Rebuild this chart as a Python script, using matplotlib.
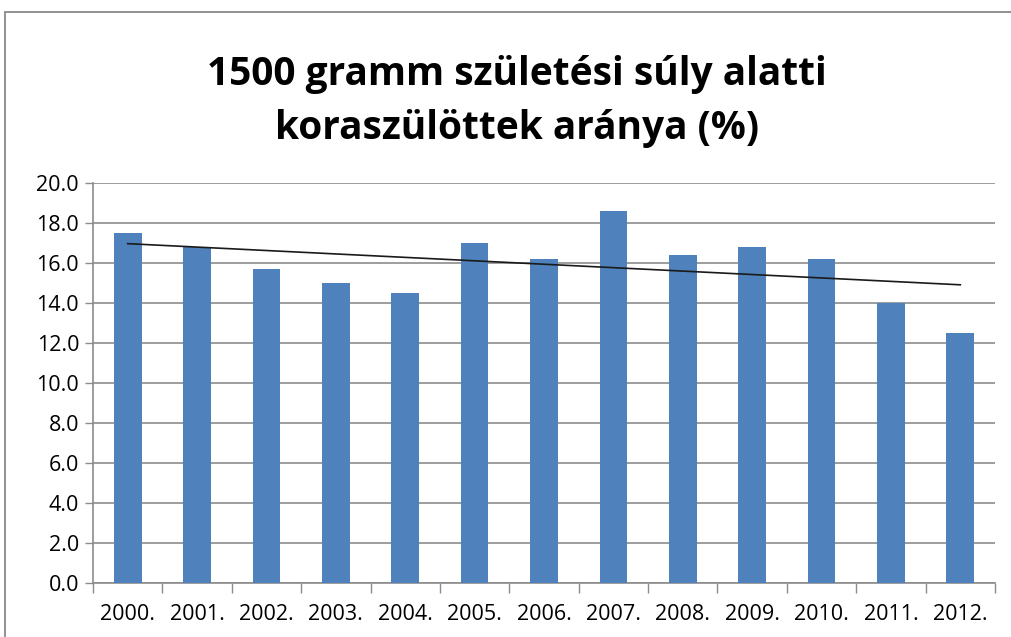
import matplotlib
matplotlib.use("Agg")
import matplotlib.pyplot as plt
import numpy as np
from matplotlib.patches import Rectangle

plt.rcParams["font.family"] = ["Open Sans", "DejaVu Sans"]

# Data
years = ["2000.", "2001.", "2002.", "2003.", "2004.", "2005.", "2006.",
         "2007.", "2008.", "2009.", "2010.", "2011.", "2012."]
values = [17.5, 16.8, 15.7, 15.0, 14.5, 17.0, 16.2, 18.6, 16.4, 16.8, 16.2, 14.0, 12.5]
yticks = [0, 2, 4, 6, 8, 10, 12, 14, 16, 18, 20]

title = "1500 gramm születési súly alatti\nkoraszülöttek aránya (%)"

fig = plt.figure(figsize=(10.11, 6.37), dpi=100)
ax = fig.add_axes([93 / 1011, 54 / 637, 902 / 1011, 400 / 637])

x = np.arange(len(years))
ax.bar(x, values, width=0.4, color="#4F81BD", zorder=3)

# linear trend line
k, b = np.polyfit(x, values, 1)
ax.plot(x, k * x + b, color="#1a1a1a", linewidth=1.2, zorder=4)

ax.set_xlim(-0.5, len(years) - 0.5)
ax.set_ylim(0, 20)
ax.set_yticks(yticks)
ax.set_yticklabels([f"{v:.1f}" for v in yticks], fontsize=15.5)
ax.yaxis.grid(True, color="#8c8c8c", linewidth=1.2, zorder=0)

# category ticks between bars, labels at centres
ax.set_xticks(np.arange(-0.5, len(years), 1.0))
ax.set_xticklabels([])
ax.set_xticks(x, minor=True)
ax.set_xticklabels(years, minor=True, fontsize=15.5)
ax.tick_params(axis="x", which="major", length=7, color="#8c8c8c", width=1)
ax.tick_params(axis="x", which="minor", length=0, pad=15)
ax.tick_params(axis="y", length=6, color="#8c8c8c", width=1, pad=4)

for s in ["top", "right"]:
    ax.spines[s].set_visible(False)
ax.spines["left"].set_color("#8c8c8c")
ax.spines["bottom"].set_color("#8c8c8c")
ax.spines["left"].set_linewidth(1.2)
ax.spines["bottom"].set_linewidth(1.2)

fig.text(517 / 1011, 1 - 101 / 637, title, ha="center", va="center",
         fontsize=28, fontweight="bold", linespacing=1.5)

# outer chart frame
fig.patches.append(Rectangle((5 / 1011, -0.1), 1.2, 1 - 12 / 637 + 0.1,
                             transform=fig.transFigure, fill=False,
                             edgecolor="#7f7f7f", linewidth=1.2))

plt.savefig("out.png", dpi=100)
